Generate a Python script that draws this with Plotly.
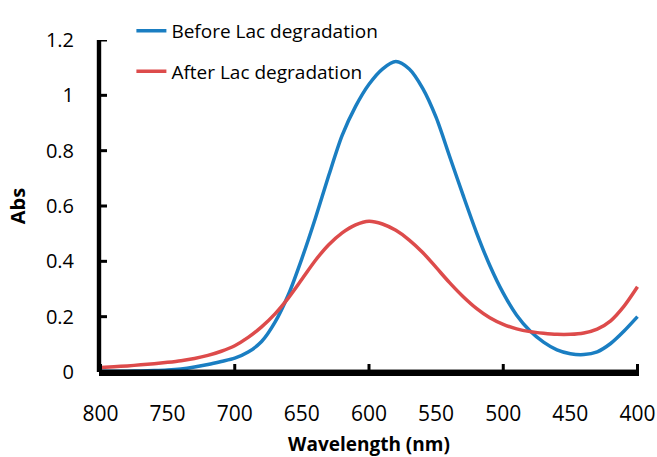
import plotly.graph_objects as go

wavelength = [800, 790, 780, 770, 760, 750, 740, 730, 720, 710, 700, 690, 680, 670, 660,
              650, 640, 630, 620, 610, 600, 590, 580, 570, 560, 550, 540, 530, 520, 510,
              500, 490, 480, 470, 460, 450, 440, 430, 420, 410, 400]

abs_before = [0.003, 0.003, 0.003, 0.004, 0.005, 0.007, 0.011, 0.018, 0.027, 0.038, 0.050,
              0.072, 0.110, 0.180, 0.280, 0.410, 0.555, 0.710, 0.855, 0.960, 1.040, 1.095,
              1.122, 1.095, 1.025, 0.920, 0.780, 0.640, 0.505, 0.385, 0.285, 0.205, 0.148,
              0.108, 0.080, 0.066, 0.063, 0.073, 0.103, 0.148, 0.200]

abs_after = [0.016, 0.019, 0.022, 0.026, 0.030, 0.035, 0.041, 0.049, 0.060, 0.075, 0.095,
             0.125, 0.163, 0.210, 0.268, 0.335, 0.403, 0.460, 0.503, 0.532, 0.545, 0.535,
             0.512, 0.477, 0.432, 0.378, 0.323, 0.273, 0.230, 0.196, 0.172, 0.156, 0.146,
             0.140, 0.136, 0.136, 0.141, 0.155, 0.185, 0.238, 0.308]

x_label_ticks = [800, 750, 700, 650, 600, 550, 500, 450, 400]
x_mark_ticks = [800, 700, 600, 500, 400]
y_ticks = [0, 0.2, 0.4, 0.6, 0.8, 1.0, 1.2]
y_tick_text = ["0", "0.2", "0.4", "0.6", "0.8", "1", "1.2"]

FONT = "Open Sans"
Y_RANGE = [0, 1.2]
HALF = 2.2      # half axis-line thickness, px
TICK = 8        # tick length, px

fig = go.Figure()
fig.add_trace(go.Scatter(x=wavelength, y=abs_before, mode="lines",
                         name="Before Lac degradation", legendgroup="a",
                         line=dict(color="#1A7EC2", width=3.5, shape="spline", smoothing=0.8)))
fig.add_trace(go.Scatter(x=wavelength, y=abs_after, mode="lines",
                         name="After Lac degradation", legendgroup="b",
                         line=dict(color="#DD4B4B", width=3.5, shape="spline", smoothing=0.8)))

solid = dict(fillcolor="black", line=dict(width=0), layer="above")
# x axis line (bottom of the plotting area), drawn as a path shape in paper space
fig.add_shape(type="path", xref="paper", yref="paper", ysizemode="pixel", yanchor=0,
              path=f"M0,{-HALF} L1,{-HALF} L1,{HALF} L0,{HALF} Z", **solid)
fig.add_shape(type="line", xref="paper", yref="paper", x0=0, x1=1, y0=0, y1=0,
              line=dict(color="black", width=2 * HALF), layer="above")
# y axis line (left of the plotting area)
fig.add_shape(type="rect", yref="paper", y0=0, y1=1,
              xref="paper", xsizemode="pixel", xanchor=0, x0=-HALF, x1=HALF, **solid)
# inside tick marks on the x axis, placed by the x scale
for v in x_mark_ticks:
    fig.add_shape(type="rect", xref="x", xsizemode="pixel", xanchor=v, x0=-1.5, x1=1.5,
                  yref="paper", ysizemode="pixel", yanchor=0, y0=0, y1=TICK, **solid)
# inside tick marks on the y axis, placed by the y scale
for v in y_ticks:
    fig.add_shape(type="rect", yref="y", ysizemode="pixel", yanchor=v, y0=-1.5, y1=1.5,
                  xref="paper", xsizemode="pixel", xanchor=0, x0=0, x1=TICK, **solid)

fig.update_layout(
    width=657, height=457,
    margin=dict(l=99, r=18, t=26, b=85),
    paper_bgcolor="white", plot_bgcolor="white",
    font=dict(family=FONT, color="black"),
    showlegend=True,
    legend=dict(x=0.06, y=1.085, xanchor="left", yanchor="top",
                font=dict(size=19, family=FONT, color="black"),
                bgcolor="rgba(0,0,0,0)", tracegroupgap=13, traceorder="grouped"),
    xaxis=dict(autorange="reversed", automargin=False,
               tickvals=x_label_ticks, ticktext=[str(v) for v in x_label_ticks],
               ticks="outside", ticklen=20, tickcolor="rgba(0,0,0,0)",
               tickfont=dict(size=21, family=FONT), ticklabeloverflow="allow",
               showgrid=False, zeroline=False,
               showline=True, linecolor="black", linewidth=4,
               title=dict(text="<b>Wavelength (nm)</b>", font=dict(size=19, family=FONT),
                          standoff=19)),
    yaxis=dict(range=Y_RANGE, automargin=False, tickvals=y_ticks, ticktext=y_tick_text,
               ticks="outside", ticklen=20, tickcolor="rgba(0,0,0,0)",
               tickfont=dict(size=20, family=FONT),
               showgrid=False, zeroline=False, showline=False,
               title=dict(text="<b>Abs</b>", font=dict(size=20, family=FONT), standoff=14)),
)

fig.write_html("out.html")
